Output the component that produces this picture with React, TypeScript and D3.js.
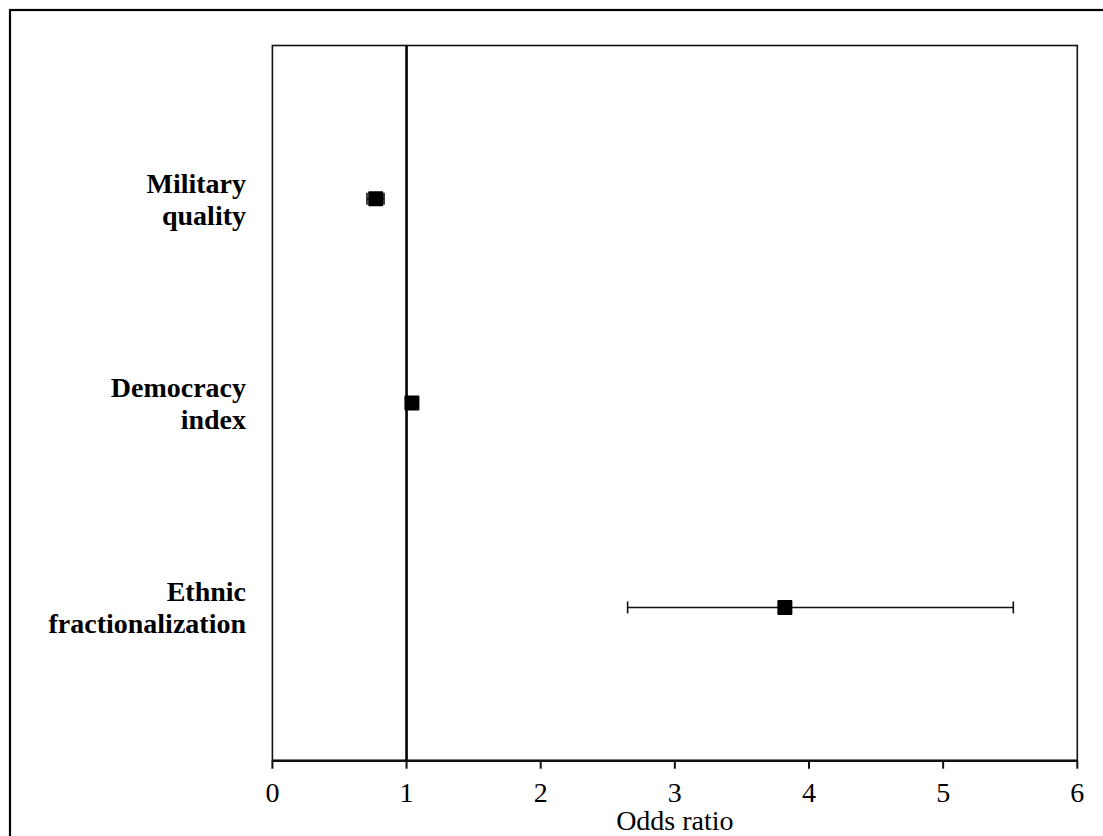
import React from "react";
import * as d3 from "d3";

const categories: string[][] = [["Military", "quality"], ["Democracy", "index"], ["Ethnic", "fractionalization"]];
const oddsRatio: number[] = [0.77, 1.04, 3.82];
const ciLow: number[] = [0.705, 1.02, 2.648];
const ciHigh: number[] = [0.832, 1.06, 5.523];
const xTicks: number[] = [0, 1, 2, 3, 4, 5, 6];
const referenceValue = 1;
const xTitle = "Odds ratio";

const W = 1103;
const H = 836;
const plot = { left: 272.4, right: 1077.3, top: 45.5, bottom: 760.7 };

export default function App() {
  const x = d3.scaleLinear().domain([0, 6]).range([plot.left, plot.right]);
  const y = d3.scaleLinear().domain([0.25, categories.length + 0.75]).range([plot.top, plot.bottom]);
  const font = "'Liberation Serif', 'Times New Roman', serif";
  const sq = 15;
  const cap = 6;
  return (
    <svg width={W} height={H} style={{ position: "absolute", left: 0, top: 0, background: "#fff" }}>
      <rect x={10} y={10} width={1200} height={1000} fill="#fff" stroke="#000" strokeWidth={2.2} />
      <rect x={plot.left} y={plot.top} width={plot.right - plot.left} height={plot.bottom - plot.top}
        fill="none" stroke="#111" strokeWidth={1.6} />
      <line x1={plot.left} x2={plot.right} y1={plot.bottom} y2={plot.bottom} stroke="#111" strokeWidth={2.4} />
      {xTicks.map((t) => (
        <g key={t}>
          <line x1={x(t)} x2={x(t)} y1={plot.bottom} y2={plot.bottom + 8} stroke="#111" strokeWidth={2} />
          <text x={x(t)} y={802} textAnchor="middle" fontFamily={font} fontSize={28} fill="#000">{t}</text>
        </g>
      ))}
      <text x={(plot.left + plot.right) / 2} y={830} textAnchor="middle" fontFamily={font} fontSize={28} fill="#000">{xTitle}</text>
      <line x1={x(referenceValue)} x2={x(referenceValue)} y1={plot.top} y2={plot.bottom} stroke="#000" strokeWidth={2.6} />
      {categories.map((lines, i) => {
        const cy = y(i + 1);
        return (
          <g key={i}>
            <text x={246} textAnchor="end" fontFamily={font} fontSize={28} fontWeight="bold" fill="#000">
              {lines.map((l, j) => (
                <tspan key={j} x={246} y={cy - 6 + j * 32}>{l}</tspan>
              ))}
            </text>
            <line x1={x(ciLow[i])} x2={x(ciHigh[i])} y1={cy} y2={cy} stroke="#111" strokeWidth={1.6} />
            <line x1={x(ciLow[i])} x2={x(ciLow[i])} y1={cy - cap} y2={cy + cap} stroke="#111" strokeWidth={1.6} />
            <line x1={x(ciHigh[i])} x2={x(ciHigh[i])} y1={cy - cap} y2={cy + cap} stroke="#111" strokeWidth={1.6} />
            <rect x={x(oddsRatio[i]) - sq / 2} y={cy - sq / 2} width={sq} height={sq} fill="#000" rx={1} />
          </g>
        );
      })}
    </svg>
  );
}
